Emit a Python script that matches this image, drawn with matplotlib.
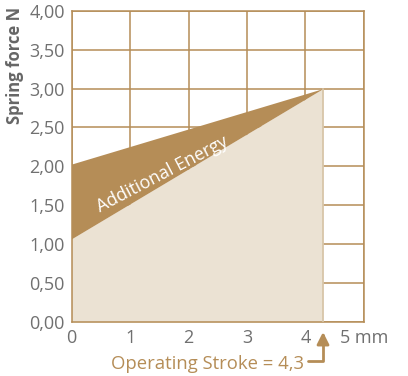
import numpy as np, matplotlib; matplotlib.use("Agg")
import matplotlib.pyplot as plt

plt.rcParams.update({"font.family": ["Open Sans", "DejaVu Sans"], "font.size": 11})

# data
stroke = [0.0, 4.3]
force_loaded = [2.03, 3.0]      # upper line
force_plain = [1.07, 3.0]       # lower line
x_ticks = [0, 1, 2, 3, 4, 5]
x_labels = ["0", "1", "2", "3", "4", "5 mm"]
y_ticks = [0, 0.5, 1, 1.5, 2, 2.5, 3, 3.5, 4]
y_labels = ["0,00", "0,50", "1,00", "1,50", "2,00", "2,50", "3,00", "3,50", "4,00"]
op_stroke = 4.3

brown = "#b58d57"; light = "#ebe2d3"; grey = "#707070"

fig = plt.figure(figsize=(4.08, 3.76), dpi=100)
ax = fig.add_axes([0.1755, 0.1436, 0.892 - 0.1755, 0.9715 - 0.1436])
ax.set_xlim(0, 5); ax.set_ylim(0, 4)
ax.set_xticks(x_ticks); ax.set_xticklabels(x_labels)
ax.set_yticks(y_ticks); ax.set_yticklabels(y_labels)
ax.grid(True, color=brown, lw=1.1, zorder=0)
ax.set_axisbelow(True)
for s in ax.spines.values(): s.set_color(brown); s.set_linewidth(1.1)
ax.tick_params(length=0, colors=grey, labelsize=13)
ax.tick_params(axis="y", pad=5)
ax.tick_params(axis="x", pad=5)

ax.fill_between(stroke, 0, force_plain, color=light, lw=0, zorder=2)
ax.fill_between(stroke, force_plain, force_loaded, color=brown, lw=0, zorder=2)
ax.plot([op_stroke, op_stroke], [0, force_plain[1]], color="#d6c3a5", lw=1.2, zorder=3)

ax.text(1.55, 1.9, "Additional Energy", color="white", fontsize=12.8, rotation=27.5,
        ha="center", va="center", rotation_mode="anchor", zorder=4)

fig.text(15 / 408, 1 - 65 / 376, "Spring force N", rotation=90, ha="center", va="center",
         fontsize=12, fontweight="bold", color="#666666")

trans = ax.get_xaxis_transform()
ax.annotate("", xy=(op_stroke, -0.032), xycoords=trans, xytext=(4.04, -0.125), textcoords=trans,
            arrowprops=dict(arrowstyle="-|>", color=brown, lw=2, mutation_scale=18,
                            shrinkA=0, shrinkB=0,
                            connectionstyle="angle,angleA=0,angleB=90,rad=0"),
            annotation_clip=False)
ax.text(3.98, -0.135, "Operating Stroke = 4,3", transform=trans, ha="right", va="center",
        color=brown, fontsize=13.3, clip_on=False)

fig.savefig("out.png", dpi=100)
